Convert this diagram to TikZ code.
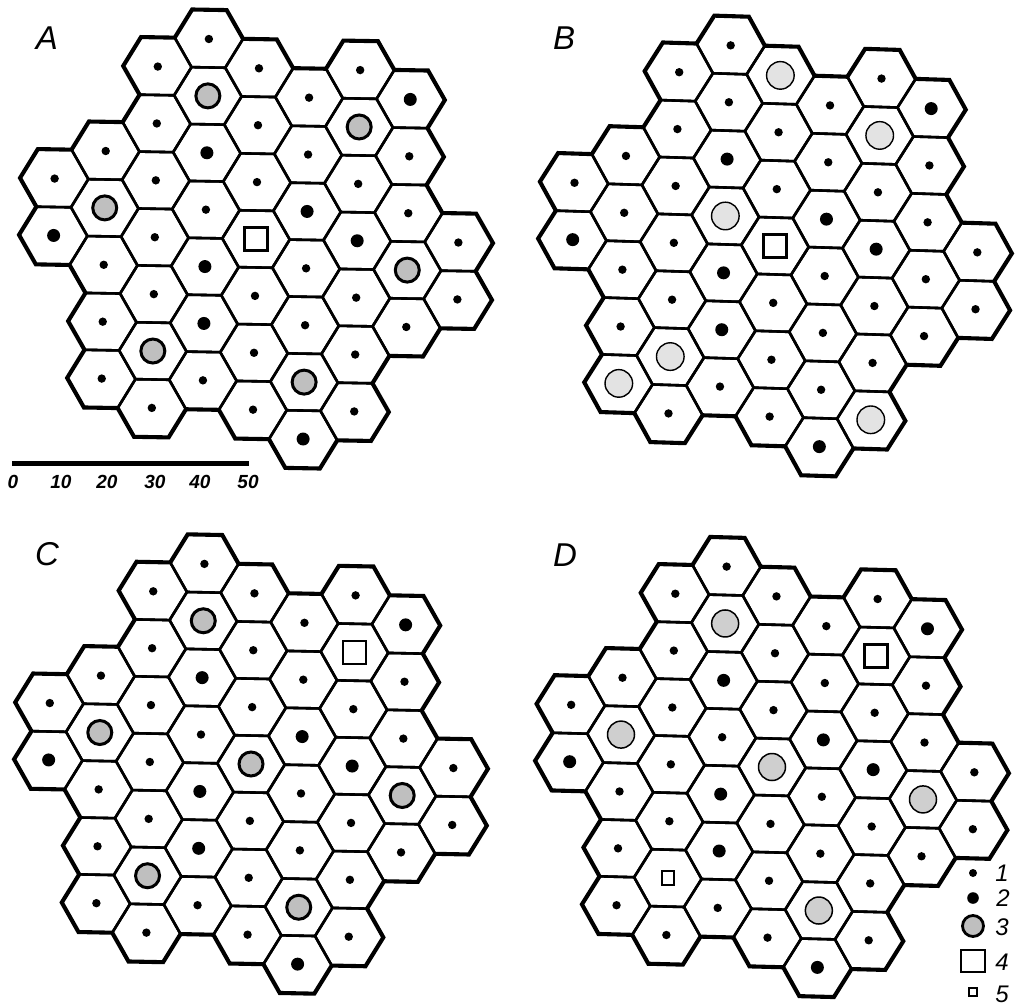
\documentclass[tikz,border=0pt]{standalone}
\usepackage{fontspec}
\setmainfont{Liberation Sans}
\begin{document}
\begin{tikzpicture}[x=1pt,y=-1pt,
  hexouter/.style={draw=black,line width=5.6pt},
  hexfill/.style={fill=white},
  hexinner/.style={draw=black,line width=2.6pt},
  panellabel/.style={font=\fontsize{33}{35}\selectfont\itshape,inner sep=0pt},
  legendnum/.style={font=\fontsize{24}{26}\selectfont\itshape,inner sep=0pt},
  scalenum/.style={font=\fontsize{19}{21}\selectfont\bfseries\itshape,inner sep=0pt},
  dotS/.pic={\fill[black] (0,0) circle (4.2);},
  dotM/.pic={\fill[black] (0,0) circle (6.5);},
  grayDark/.pic={\filldraw[fill=gray!50,draw=black,line width=3pt] (0,0) circle (12);},
  grayLight/.pic={\filldraw[fill=gray!22,draw=black,line width=1.4pt] (0,0) circle (13.8);},
  grayMid/.pic={\filldraw[fill=gray!38,draw=black,line width=1.5pt] (0,0) circle (13.5);},
  bigSquare/.pic={\filldraw[fill=white,draw=black,line width=2.5pt] (-11.5,-11.5) rectangle (11.5,11.5);},
  smallSquare/.pic={\filldraw[fill=white,draw=black,line width=2pt] (-6,-7) rectangle (6,7);}
]
\useasboundingbox (0,0) rectangle (1017,1006);
\fill[white] (0,0) rectangle (1017,1006);

\def\cells{0/5,0/7,1/4,1/6,1/8,1/10,1/12,2/1,2/3,2/5,2/7,2/9,2/11,2/13,3/0,3/2,3/4,3/6,3/8,3/10,3/12,4/1,4/3,4/5,4/7,4/9,4/11,4/13,5/2,5/4,5/6,5/8,5/10,5/12,5/14,6/1,6/3,6/5,6/7,6/9,6/11,6/13,7/2,7/4,7/6,7/8,7/10,8/7,8/9}
\def\medcells{0/7,3/4,3/8,3/10,5/6,5/14,6/7,7/2}

\newcommand\hexcell[3]{\path[#1,shift={({(#2-4)*50.6},{(#3-7)*28.45})}] (33.73,0) -- (16.87,-28.45) -- (-16.87,-28.45) -- (-33.73,0) -- (-16.87,28.45) -- (16.87,28.45) -- cycle;}
\newcommand\lattice{%
  \foreach \c/\k in \cells {\hexcell{hexouter}{\c}{\k}}
  \foreach \c/\k in \cells {\hexcell{hexfill}{\c}{\k}}
  \foreach \c/\k in \cells {\hexcell{hexinner}{\c}{\k}}
  \foreach \c/\k in \cells {\pic at ({(\c-4)*50.6},{(\k-7)*28.45}) {dotS};}
  \foreach \c/\k in \medcells {\pic at ({(\c-4)*50.6},{(\k-7)*28.45}) {dotM};}
}
\newcommand\symat[3]{\pic at ({(#2-4)*50.6},{(#3-7)*28.45}) {#1};}

% Panel A
\begin{scope}[shift={(256,239)},rotate=-1.0]
  \lattice
  \foreach \c/\k in {1/6,2/11,3/2,5/12,6/3,7/8} {\symat{grayDark}{\c}{\k}}
  \symat{bigSquare}{4}{7}
\end{scope}
% Panel B
\begin{scope}[shift={(775,246)},rotate=-1.8]
  \lattice
  \foreach \c/\k in {1/12,2/11,3/6,4/1,6/3,6/13} {\symat{grayLight}{\c}{\k}}
  \symat{bigSquare}{4}{7}
\end{scope}
% Panel C
\begin{scope}[shift={(251,764)},rotate=-1.15]
  \lattice
  \foreach \c/\k in {1/6,2/11,3/2,4/7,5/12,7/8} {\symat{grayDark}{\c}{\k}}
  \symat{bigSquare}{6}{3}
\end{scope}
% Panel D
\begin{scope}[shift={(772,767)},rotate=-1.5]
  \lattice
  \foreach \c/\k in {1/6,3/2,4/7,5/12,7/8} {\symat{grayMid}{\c}{\k}}
  \symat{bigSquare}{6}{3}
  \symat{smallSquare}{2}{11}
\end{scope}

% Panel labels
\node[panellabel] (labA) at (47,38) {A};
\node[panellabel] (labB) at (564,38) {B};
\node[panellabel] (labC) at (47,554) {C};
\node[panellabel] (labD) at (565,555) {D};

% Scale bar
\coordinate (sb0) at (12,463);
\coordinate (sb50) at (249,463);
\draw[line width=5pt] (sb0) -- (sb50);
\node[scalenum] (s0) at (13,482) {0};
\node[scalenum] (s10) at (61,482) {10};
\node[scalenum] (s20) at (107,482) {20};
\node[scalenum] (s30) at (155,482) {30};
\node[scalenum] (s40) at (200,482) {40};
\node[scalenum] (s50) at (248,482) {50};

% Legend
\fill[black] (973,873) circle (4);
\fill[black] (973,898) circle (5.8);
\filldraw[fill=gray!50,draw=black,line width=2.8pt] (973,926) circle (10.5);
\filldraw[fill=white,draw=black,line width=2.2pt] (961,950) rectangle (985,972);
\filldraw[fill=white,draw=black,line width=1.8pt] (969,988) rectangle (977,996);
\node[legendnum] (l1) at (1002,873) {1};
\node[legendnum] (l2) at (1003,898) {2};
\node[legendnum] (l3) at (1002,927) {3};
\node[legendnum] (l4) at (1002,962) {4};
\node[legendnum] (l5) at (1002,994) {5};
\end{tikzpicture}
\end{document}
